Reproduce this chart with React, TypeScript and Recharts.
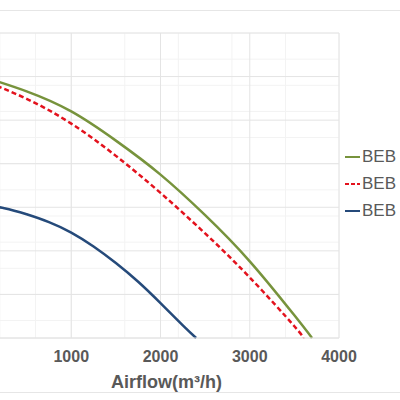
import { LineChart, Line, XAxis, YAxis, CartesianGrid } from 'recharts'

// fan curves: airflow (m³/h) vs static pressure (Pa)
const seriesNames = ['BEB', 'BEB', 'BEB']

const flowA = [0, 500, 1000, 1500, 2000, 2500, 3000, 3500, 3698]
const pressureA = [600, 566, 520, 453, 375, 282, 176, 52, 0]

const flowB = [0, 500, 1000, 1500, 2000, 2500, 3000, 3500, 3597]
const pressureB = [592, 549, 492, 418, 333, 240, 139, 27, 0]

const flowC = [0, 250, 500, 750, 1000, 1250, 1500, 1750, 2000, 2250, 2399]
const pressureC = [305, 298, 284, 266, 242, 210, 172, 129, 80, 29, 0]

const gridX = [0, 1000, 2000, 3000, 4000]
const xTicks = [1000, 2000, 3000, 4000]
const gridY = [0, 100, 200, 300, 400, 500, 600, 700]

const toPoints = (flow: number[], pressure: number[]) =>
  flow.map((q, i) => ({ q, p: pressure[i] }))

const series = [
  { key: 'a', name: seriesNames[0], data: toPoints(flowA, pressureA), color: '#77933c', dash: undefined },
  { key: 'b', name: seriesNames[1], data: toPoints(flowB, pressureB), color: '#e3121d', dash: '5 3' },
  { key: 'c', name: seriesNames[2], data: toPoints(flowC, pressureC), color: '#254a7a', dash: undefined },
]

const minorX = Array.from({ length: 21 }, (_, i) => i * 200)
const minorY = Array.from({ length: 36 }, (_, i) => i * 20)

const font = '"Liberation Sans", Arial, sans-serif'
const textColor = '#595959'

function FanLegend() {
  return (
    <div style={{ position: 'absolute', left: 345, top: 143, fontFamily: font, fontSize: 17, color: textColor }}>
      {series.map((s) => (
        <div key={s.key} style={{ display: 'flex', alignItems: 'center', height: 27, whiteSpace: 'nowrap' }}>
          <svg width={17} height={10}>
            <line x1={0} y1={5} x2={15} y2={5} stroke={s.color} strokeWidth={2} strokeDasharray={s.dash ? '4 2' : undefined} />
          </svg>
          <span>{s.name}</span>
        </div>
      ))}
    </div>
  )
}

export default function App() {
  return (
    <div style={{ position: 'fixed', left: 0, top: 0, width: 400, height: 400, overflow: 'hidden', background: '#fff' }}>
      <div style={{ position: 'absolute', left: -20, top: 10, width: 440, height: 381, borderTop: '1px solid #e6e6e6', borderBottom: '1px solid #e6e6e6' }} />
      <div style={{ position: 'absolute', left: -80, top: 0 }}>
        <LineChart width={520} height={400} margin={{ top: 33, right: 101, bottom: 12, left: 62 }}>
          <CartesianGrid verticalValues={minorX} horizontalValues={minorY} stroke="#f3f3f3" strokeWidth={1} />
          <CartesianGrid verticalValues={gridX} horizontalValues={gridY} stroke="#e4e4e4" strokeWidth={1} fill="none" />
          <XAxis
            type="number"
            dataKey="q"
            domain={[0, 4000]}
            ticks={xTicks}
            allowDataOverflow
            height={50}
            axisLine={{ stroke: '#e4e4e4' }}
            tickLine={false}
            tickMargin={7}
            tick={{ fill: textColor, fontSize: 16, fontWeight: 700, fontFamily: font }}
            label={{ value: 'Airflow(m³/h)', position: 'insideBottom', offset: 0, dx: 6, fill: textColor, fontSize: 18, fontWeight: 700, fontFamily: font }}
          />
          <YAxis type="number" dataKey="p" domain={[0, 700]} ticks={gridY} hide />
          {series.map((s) => (
            <Line
              key={s.key}
              data={s.data}
              dataKey="p"
              name={s.name}
              type="natural"
              stroke={s.color}
              strokeWidth={2.5}
              strokeDasharray={s.dash}
              dot={false}
              isAnimationActive={false}
            />
          ))}
        </LineChart>
      </div>
      <FanLegend />
    </div>
  )
}
